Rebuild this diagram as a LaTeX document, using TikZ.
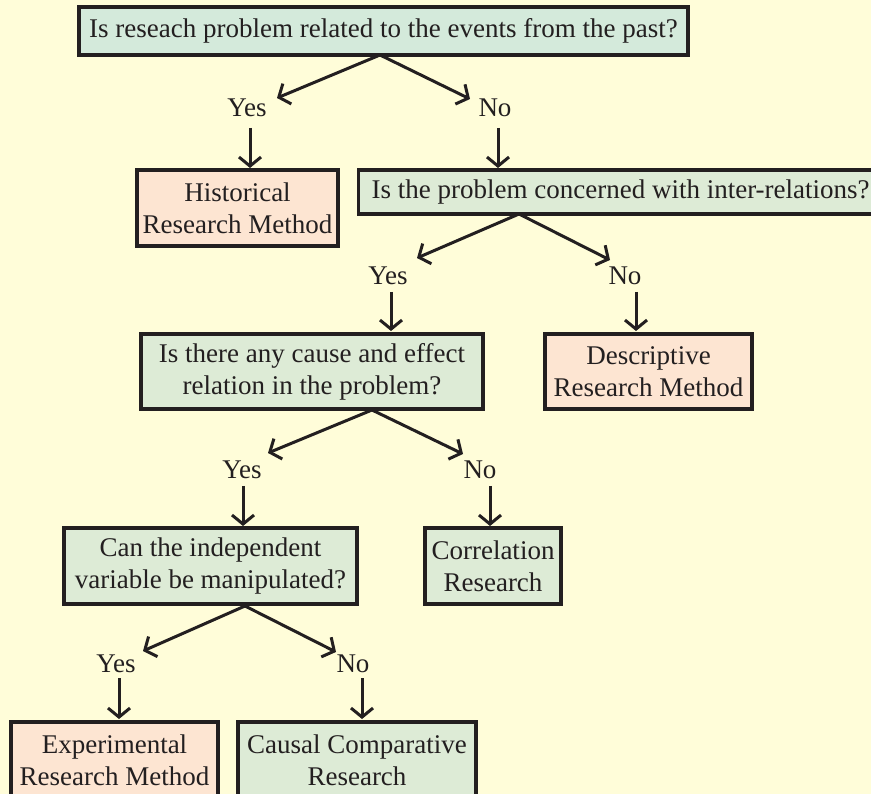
\documentclass[tikz,border=0pt]{standalone}
\usepackage{fontspec}
\setmainfont{Liberation Serif}
\usetikzlibrary{arrows.meta}
\definecolor{bgc}{HTML}{FFFDD9}
\definecolor{gfill}{HTML}{DDEBD6}
\definecolor{tfill}{HTML}{D4EADB}
\definecolor{ofill}{HTML}{FDE5D2}
\definecolor{ink}{HTML}{231F20}
\tikzset{
  x=1pt, y=-1pt,
  box/.style={draw=ink, line width=3.2pt, align=center, inner sep=0pt, text=ink,
    font=\fontsize{27}{32}\selectfont},
  gbox/.style={box, fill=gfill},
  obox/.style={box, fill=ofill},
  lbl/.style={text=ink, inner sep=0pt, font=\fontsize{27}{32}\selectfont},
  arr/.style={draw=ink, line width=3pt, -{Straight Barb[length=9pt,width=22pt,line width=3pt]}},
}
\begin{document}
\begin{tikzpicture}
\fill[bgc] (0,0) rectangle (871,794);
\useasboundingbox (0,0) rectangle (871,794);

% boxes
\node[box, fill=tfill, minimum width=609pt, minimum height=48pt] (q1) at (383.5,31) {Is reseach problem related to the events from the past?};
\node[obox, minimum width=201pt, minimum height=76pt] (hist) at (237.5,208) {Historical\\Research Method};
\node[gbox, minimum width=530pt, minimum height=44pt, anchor=west] (q2) at (357,192) {\hspace*{-6pt}Is the problem concerned with inter-relations?};
\node[gbox, minimum width=342pt, minimum height=75pt] (q3) at (312,371.5) {Is there any cause and effect\\relation in the problem?};
\node[obox, minimum width=207pt, minimum height=75pt] (desc) at (648.5,371.5) {Descriptive\\Research Method};
\node[gbox, minimum width=293pt, minimum height=76pt] (q4) at (210.5,566) {Can the independent\\variable be manipulated?};
\node[gbox, minimum width=136pt, minimum height=76pt] (corr) at (493,566) {Correlation\\Research};
\node[obox, minimum width=207pt, minimum height=76pt] (exp) at (114.5,760) {Experimental\\Research Method};
\node[gbox, minimum width=238pt, minimum height=76pt] (caus) at (357,760) {Causal Comparative\\Research};

% labels
\node[lbl] (y1) at (247,108) {Yes};
\node[lbl] (n1) at (495,108) {No};
\node[lbl] (y2) at (388,276) {Yes};
\node[lbl] (n2) at (625,276) {No};
\node[lbl] (y3) at (242,470) {Yes};
\node[lbl] (n3) at (480,470) {No};
\node[lbl] (y4) at (116,664) {Yes};
\node[lbl] (n4) at (353,664) {No};

% split tips
\coordinate (a1) at (380,55);
\coordinate (ty1) at (277,98);
\coordinate (tn1) at (470,99);
\coordinate (a2) at (519,214);
\coordinate (ty2) at (417,258);
\coordinate (tn2) at (610,260);
\coordinate (a3) at (372,410);
\coordinate (ty3) at (268,453);
\coordinate (tn3) at (463,454);
\coordinate (a4) at (245,606);
\coordinate (ty4) at (143,651);
\coordinate (tn4) at (336,652);

\draw[arr] (a1) -- (ty1);
\draw[arr] (a1) -- (tn1);
\draw[arr] (a2) -- (ty2);
\draw[arr] (a2) -- (tn2);
\draw[arr] (a3) -- (ty3);
\draw[arr] (a3) -- (tn3);
\draw[arr] (a4) -- (ty4);
\draw[arr] (a4) -- (tn4);

% down arrows
\draw[arr] (250,128) -- (250,168);
\draw[arr] (498,128) -- (498,168);
\draw[arr] (391,292) -- (391,331);
\draw[arr] (636,292) -- (636,331);
\draw[arr] (243,486) -- (243,526);
\draw[arr] (490,486) -- (490,526);
\draw[arr] (119,678) -- (119,719);
\draw[arr] (362,678) -- (362,719);
\end{tikzpicture}
\end{document}
